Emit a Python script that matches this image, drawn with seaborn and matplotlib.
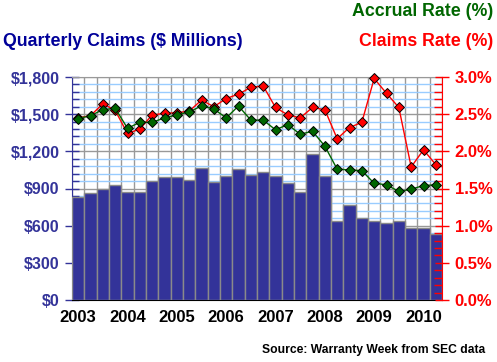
import matplotlib
matplotlib.use("Agg")
import matplotlib.pyplot as plt
import seaborn as sns
import numpy as np
import pandas as pd
from matplotlib.ticker import MultipleLocator, FixedLocator, NullFormatter

# ---- data ----
quarters = [f"{y}Q{q}" for y in range(2003, 2011) for q in range(1, 5)][:30]
claims_musd = [835, 862, 895, 927, 870, 870, 959, 992, 992, 967,
               1067, 951, 1000, 1056, 1008, 1032, 1000, 943, 870, 1178,
               1000, 636, 768, 660, 636, 620, 636, 579, 579, 536]
claims_rate = [2.45, 2.48, 2.64, 2.55, 2.24, 2.30, 2.49, 2.51, 2.52, 2.54,
               2.69, 2.60, 2.71, 2.77, 2.86, 2.88, 2.59, 2.49, 2.45, 2.59,
               2.56, 2.17, 2.32, 2.39, 2.98, 2.78, 2.59, 1.79, 2.02, 1.82]
accrual_rate = [2.44, 2.48, 2.56, 2.58, 2.31, 2.39, 2.39, 2.45, 2.49, 2.53,
                2.61, 2.57, 2.45, 2.61, 2.42, 2.42, 2.29, 2.36, 2.23, 2.27,
                2.07, 1.76, 1.75, 1.74, 1.57, 1.55, 1.46, 1.49, 1.54, 1.55]
year_labels = ["2003", "2004", "2005", "2006", "2007", "2008", "2009", "2010"]

df = pd.DataFrame({"quarter": quarters, "claims": claims_musd,
                   "crate": claims_rate, "arate": accrual_rate,
                   "idx": np.arange(len(quarters))})

sns.set_style("white")
plt.rcParams['font.family'] = ['Liberation Sans', 'DejaVu Sans']
plt.rcParams['font.weight'] = 'bold'

NAVY = '#333399'
fig = plt.figure(figsize=(4.97, 3.62), dpi=100)
ax = fig.add_axes([72/497, 62/362, (442-72)/497, (300-77)/362])

sns.barplot(data=df, x="quarter", y="claims", ax=ax, color=NAVY, saturation=1,
            width=1.0, edgecolor='#8a8a8a', linewidth=1, zorder=3)
ax.set_xlim(-0.5, len(quarters) - 0.5)
ax.set_ylim(0, 1800)
ax.set_xlabel("")
ax.set_ylabel("")

# grid
ax.set_axisbelow(True)
ax.yaxis.set_major_locator(MultipleLocator(300))
ax.yaxis.set_minor_locator(MultipleLocator(60))
ax.grid(axis='y', which='major', color='#999999', linewidth=1, zorder=0)
ax.grid(axis='y', which='minor', color='#99CCFF', linewidth=1, zorder=0)
ax.set_yticklabels([f"${int(v):,}" for v in ax.get_yticks()])
ax.tick_params(axis='y', which='major', direction='inout', length=10, width=1,
               color=NAVY, labelcolor=NAVY, labelsize=11.5, pad=4)
ax.tick_params(axis='y', which='minor', direction='in', length=5, width=1, color=NAVY)

# x: boundaries as major ticks (with grid), year labels as minor ticks
ax.xaxis.set_major_locator(FixedLocator(np.arange(-0.5, len(quarters), 1.0)))
ax.xaxis.set_major_formatter(NullFormatter())
ax.xaxis.set_minor_locator(FixedLocator(np.arange(0, len(quarters), 4)))
ax.set_xticklabels(year_labels, minor=True)
ax.grid(axis='x', which='major', color='#999999', linewidth=1, zorder=0)
ax.tick_params(axis='x', which='major', direction='out', length=4, width=1, color='black')
ax.tick_params(axis='x', which='minor', length=0, labelsize=12, labelcolor='black', pad=7)

ax.spines['top'].set_color('#999999')
ax.spines['left'].set_color(NAVY)
ax.spines['bottom'].set_color('black')
ax.spines['right'].set_visible(False)

# twin axis for rates
ax2 = ax.twinx()
sns.lineplot(data=df, x="idx", y="crate", ax=ax2, color='red', linewidth=1,
             marker='D', markersize=5, markerfacecolor='red',
             markeredgecolor='black', markeredgewidth=0.7, clip_on=False)
sns.lineplot(data=df, x="idx", y="arate", ax=ax2, color='#006600', linewidth=1,
             marker='D', markersize=5, markerfacecolor='#006600',
             markeredgecolor='black', markeredgewidth=0.7, clip_on=False)
ax2.set_ylim(0, 3.0)
ax2.set_xlim(-0.5, len(quarters) - 0.5)
ax2.set_ylabel("")
ax2.set_xlabel("")
ax2.yaxis.set_major_locator(MultipleLocator(0.5))
ax2.yaxis.set_minor_locator(MultipleLocator(0.1))
ax2.set_yticklabels([f"{v:.1f}%" for v in ax2.get_yticks()])
ax2.tick_params(axis='y', which='major', direction='inout', length=10, width=1,
                color='red', labelcolor='red', labelsize=12, pad=4)
ax2.tick_params(axis='y', which='minor', direction='in', length=6, width=1, color='red')
for s in ['top', 'left', 'bottom']:
    ax2.spines[s].set_visible(False)
ax2.spines['right'].set_color('red')

# titles
fig.text(3/497, 1 - 42/362, "Quarterly Claims ($ Millions)", color='#000099',
         fontsize=12.8, fontweight='bold', ha='left', va='center')
fig.text(493/497, 1 - 11/362, "Accrual Rate (%)", color='#006600',
         fontsize=12.8, fontweight='bold', ha='right', va='center')
fig.text(493/497, 1 - 42/362, "Claims Rate (%)", color='red',
         fontsize=12.8, fontweight='bold', ha='right', va='center')
fig.text(485/497, 1 - 350/362, "Source: Warranty Week from SEC data", color='black',
         fontsize=8.7, fontweight='bold', ha='right', va='center')

fig.savefig("out.png", dpi=100)
